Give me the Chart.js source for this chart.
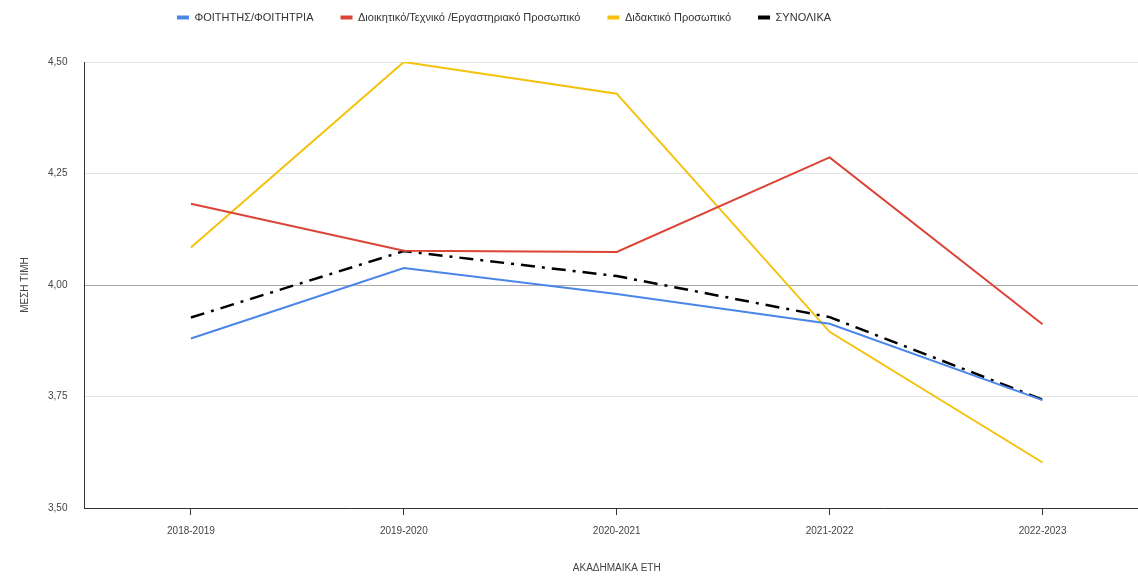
<!DOCTYPE html>
<html>
<head>
<meta charset="utf-8">
<script src="https://cdn.jsdelivr.net/npm/chart.js@4"></script>
<style>
  body { margin: 0; background: #fff; overflow: hidden; }
  #wrap { width: 1149px; height: 576px; }
</style>
</head>
<body>
<div id="wrap"><canvas id="chart"></canvas></div>
<script>
// academic years on the x axis
const years = ['2018-2019', '2019-2020', '2020-2021', '2021-2022', '2022-2023'];

// mean values per group
const students = [3.88, 4.038, 3.98, 3.913, 3.742];
const adminStaff = [4.182, 4.077, 4.074, 4.286, 3.912];
const teachingStaff = [4.084, 4.50, 4.429, 3.895, 3.602];
const overall = [3.927, 4.076, 4.02, 3.928, 3.743];

const yTicks = [3.5, 3.75, 4.0, 4.25, 4.5];

const font = { family: 'Liberation Sans, Arial, sans-serif', size: 10 };

const chartCanvas = document.getElementById('chart');

// extra room under the legend, and legend pulled up and a bit to the left
const legendMargin = {
    id: 'legendMargin',
    beforeInit(chart) {
        const fit = chart.legend.fit;
        chart.legend.fit = function () {
            fit.bind(chart.legend)();
            this.height += 14;
        };
    },
    afterLayout(chart) {
        chart.legend.right -= 160;
        chart.legend.top -= 15;
    },
};

new Chart(chartCanvas, {
    type: 'line',
    data: {
        labels: years,
        datasets: [
            {
                label: 'ΦΟΙΤΗΤΗΣ/ΦΟΙΤΗΤΡΙΑ',
                data: students,
                borderColor: '#4a86e8',
                backgroundColor: '#4a86e8',
                borderWidth: 2,
                pointRadius: 0,
                tension: 0,
            },
            {
                label: 'Διοικητικό/Τεχνικό /Εργαστηριακό Προσωπικό',
                data: adminStaff,
                borderColor: '#db4437',
                backgroundColor: '#db4437',
                borderWidth: 2,
                pointRadius: 0,
                tension: 0,
            },
            {
                label: 'Διδακτικό Προσωπικό',
                data: teachingStaff,
                borderColor: '#f4c20d',
                backgroundColor: '#f4c20d',
                borderWidth: 2,
                pointRadius: 0,
                tension: 0,
            },
            {
                label: 'ΣΥΝΟΛΙΚΑ',
                data: overall,
                borderColor: '#000',
                backgroundColor: '#000',
                borderWidth: 2.5,
                borderDash: [14, 7, 3, 7],
                pointRadius: 0,
                tension: 0,
            },
        ],
    },
    options: {
        responsive: true,
        maintainAspectRatio: false,
        animation: false,
        layout: { padding: { top: 0, right: 0, left: 19, bottom: 2 } },
        plugins: {
            legend: {
                position: 'top',
                labels: {
                    font: { family: font.family, size: 11 },
                    color: '#333',
                    boxWidth: 12,
                    boxHeight: 4,
                    padding: 27,
                    generateLabels: chart => Chart.defaults.plugins.legend.labels.generateLabels(chart)
                        .map(item => Object.assign(item, { lineWidth: 0, lineDash: [] })),
                },
            },
            tooltip: { enabled: false },
        },
        scales: {
            x: {
                offset: true,
                grid: {
                    offset: false,
                    drawOnChartArea: false,
                    drawTicks: true,
                    tickLength: 7,
                    tickColor: '#333',
                },
                border: { display: true, color: '#333', width: 1 },
                ticks: { font: font, color: '#444', padding: 10, maxRotation: 0 },
                title: {
                    display: true,
                    text: 'ΑΚΑΔΗΜΑΙΚΑ ΕΤΗ',
                    font: font,
                    color: '#444',
                    padding: { top: 15, bottom: 0 },
                },
            },
            y: {
                min: 3.5,
                max: 4.5,
                afterBuildTicks: axis => {
                    axis.ticks = yTicks.map(v => ({ value: v }));
                },
                grid: {
                    drawTicks: false,
                    color: ctx => (ctx.tick && ctx.tick.value === 4 ? '#aaa' : '#e3e3e3'),
                },
                border: { display: true, color: '#333', width: 1 },
                ticks: {
                    font: font,
                    color: '#444',
                    padding: 17,
                    callback: v => v.toFixed(2).replace('.', ','),
                },
                title: {
                    display: true,
                    text: 'ΜΕΣΗ ΤΙΜΗ',
                    font: font,
                    color: '#444',
                    padding: { top: 0, bottom: 0 },
                },
            },
        },
    },
    plugins: [legendMargin],
});
</script>
</body>
</html>
